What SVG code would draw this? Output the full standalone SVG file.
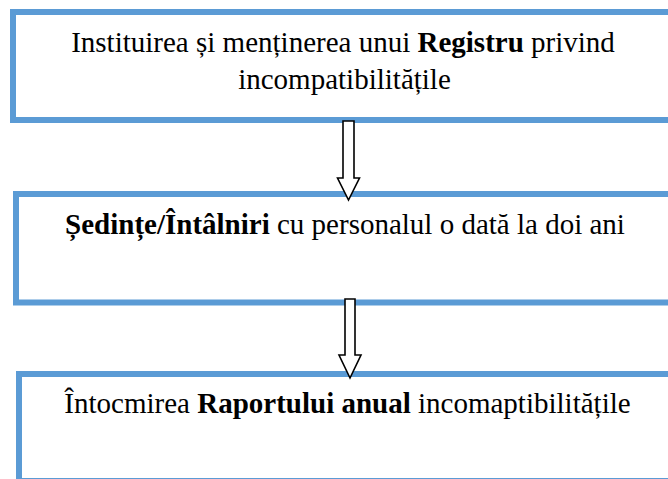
<svg xmlns="http://www.w3.org/2000/svg" width="668" height="479" viewBox="0 0 668 479">
  <style>
    .box { fill: #ffffff; stroke: #5B9BD5; stroke-width: 6; }
    .txt { font-family: 'Liberation Serif', 'Times New Roman', Times, 'DejaVu Serif', serif; font-size: 29px; fill: #000000; text-anchor: middle; }
    .b { font-weight: bold; }
    .arrow { fill: #ffffff; stroke: #000000; stroke-width: 1.6; stroke-linejoin: miter; }
  </style>
  <rect width="668" height="479" fill="#ffffff"/>
  <g id="node1">
    <rect class="box" x="13" y="12" width="680" height="108"/>
    <text class="txt" font-family="Liberation Serif, serif" x="343" y="52">Instituirea și menținerea unui <tspan class="b">Registru</tspan> privind</text>
    <text class="txt" font-family="Liberation Serif, serif" x="344.5" y="89">incompatibilitățile</text>
  </g>
  <g id="node2">
    <rect class="box" x="16" y="194" width="680" height="108.5"/>
    <text class="txt" font-family="Liberation Serif, serif" x="345" y="234"><tspan class="b">Ședințe/Întâlniri</tspan> cu personalul o dată la doi ani</text>
  </g>
  <g id="node3">
    <rect class="box" x="19" y="374" width="680" height="107"/>
    <text class="txt" font-family="Liberation Serif, serif" x="347.5" y="413">Întocmirea <tspan class="b">Raportului anual</tspan> incomaptibilitățile</text>
  </g>
  <g id="connectors">
    <polygon class="arrow" points="343,121 354,121 354,178 359.5,178 348.5,200 337.5,178 343,178"/>
    <polygon class="arrow" points="345,299 355,299 355,355 361,355 350,378 339,355 345,355"/>
  </g>
</svg>
